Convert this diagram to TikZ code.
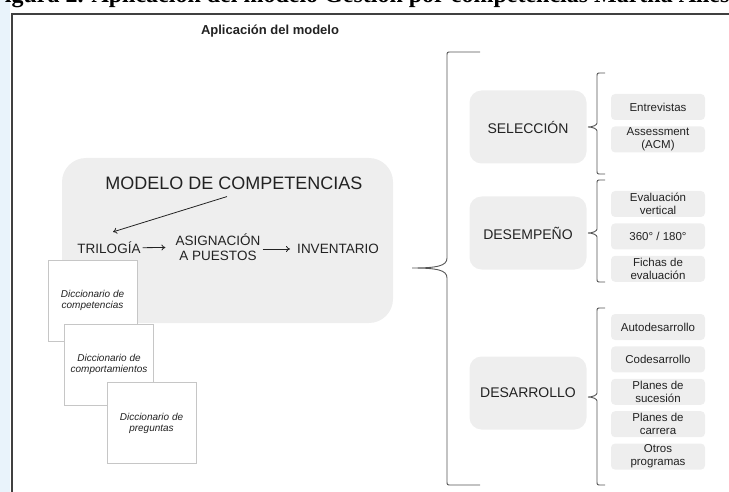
\documentclass[tikz,border=0pt]{standalone}
\usepackage{fontspec}
\setmainfont{Liberation Sans}
\newfontfamily\capfont{Liberation Serif}
\usetikzlibrary{positioning,calc,arrows.meta}

\definecolor{boxgray}{HTML}{EEEEEE}
\definecolor{linegray}{HTML}{555555}
\definecolor{txt}{HTML}{222222}
\definecolor{pageblue}{HTML}{E9F3FB}

\begin{document}
\begin{tikzpicture}[x=1pt,y=-1pt]
  \tikzset{
    node distance=6pt,
    every node/.style={text=txt,inner sep=2pt},
    bigbox/.style={rounded corners=24pt,fill=boxgray,minimum width=331pt,minimum height=165pt},
    catbox/.style={rounded corners=12pt,fill=boxgray,minimum width=117pt,minimum height=73pt,font=\fontsize{14}{16}\selectfont},
    itembox/.style={rounded corners=4pt,fill=boxgray,minimum width=94pt,minimum height=26pt,align=center,inner sep=1pt,font=\fontsize{11.5}{13}\selectfont},
    dictbox/.style={draw=gray!45,fill=white,minimum width=89pt,minimum height=81pt,align=center,font=\fontsize{10}{11}\selectfont\itshape},
    flow/.style={font=\fontsize{13.5}{15.5}\selectfont,align=center},
    arr/.style={-{To[length=4pt,width=6pt]},draw=txt,line width=0.8pt},
    brace/.style={draw=linegray,line width=0.9pt}
  }
  \useasboundingbox (0,0) rectangle (729,492);
  \clip (0,0) rectangle (729,492);

  % page and frame
  \fill[pageblue] (0,0) rectangle (10,492);
  \node[anchor=base west,inner sep=0pt,text=black,font=\capfont\bfseries\fontsize{24}{26}\selectfont] (pie) at (-10,2.5)
    {Figura 2. Aplicación del modelo Gestión por competencias Martha Alles};
  \draw[line width=1.5pt,draw=black!75] (12,500) -- (12,14) -- (740,14);

  \node[font=\bfseries\fontsize{13}{15}\selectfont] (titulo) at (270,31) {Aplicación del modelo};

  % modelo
  \node[bigbox] (modelo) at (227.5,240.5) {};
  \node[flow,font=\fontsize{18}{20}\selectfont] (mc) at (234,183) {MODELO DE COMPETENCIAS};
  \node[flow] (tri) at (109,248) {TRILOGÍA};
  \node[flow] (asig) at (218,247) {ASIGNACIÓN\\A PUESTOS};
  \node[flow] (inv) at (338,249) {INVENTARIO};

  \draw[arr] ($(mc.south)+(-7,5)$) -- ($(tri.north)+(4,-8)$);
  \draw[arr,shorten >=8pt] (tri) -- (asig);
  \draw[arr,shorten >=5pt] (asig.east |- inv) -- (inv.west);

  % diccionarios
  \node[dictbox] (dic1) at (92.5,300.5) {Diccionario de\\competencias};
  \node[dictbox] (dic2) at (109,364.5) {Diccionario de\\comportamientos};
  \node[dictbox] (dic3) at (151.5,423) {Diccionario de\\preguntas};

  % llaves
  \foreach \xv/\xe/\xt/\yt/\ym/\yb/\c in {447/480/412/52/268/485/10, 597/605/588/73/127/174/4,
                                          597/605/588/180/233/282/4, 597/605/588/308/397/485/4}
    \draw[brace] (\xe,\yt) -- (\xv+4,\yt) .. controls (\xv,\yt) .. (\xv,\yt+4)
      -- (\xv,\ym-\c) .. controls (\xv,\ym-2) and (\xv-\c,\ym) .. (\xt,\ym)
      .. controls (\xv-\c,\ym) and (\xv,\ym+2) .. (\xv,\ym+\c)
      -- (\xv,\yb-4) .. controls (\xv,\yb) .. (\xv+4,\yb) -- (\xe,\yb);

  % aplicaciones
  \node[catbox] (sel) at (528,127) {SELECCIÓN};
  \node[catbox] (desem) at (528,233) {DESEMPEÑO};
  \node[catbox] (desa) at (528,393) {DESARROLLO};

  \node[itembox] (entr) at (658,107) {Entrevistas};
  \node[itembox,below=of entr] (asses) {Assessment\\(ACM)};

  \node[itembox] (evert) at (658,204) {Evaluación\\vertical};
  \node[itembox,below=of evert] (grados) {360° / 180°};
  \node[itembox,below=of grados] (fichas) {Fichas de\\evaluación};

  \node[itembox] (auto) at (658,327) {Autodesarrollo};
  \node[itembox,below=of auto] (codes) {Codesarrollo};
  \node[itembox,below=of codes] (psuc) {Planes de\\sucesión};
  \node[itembox,below=of psuc] (pcar) {Planes de\\carrera};
  \node[itembox,below=of pcar] (otros) {Otros\\programas};
\end{tikzpicture}
\end{document}
